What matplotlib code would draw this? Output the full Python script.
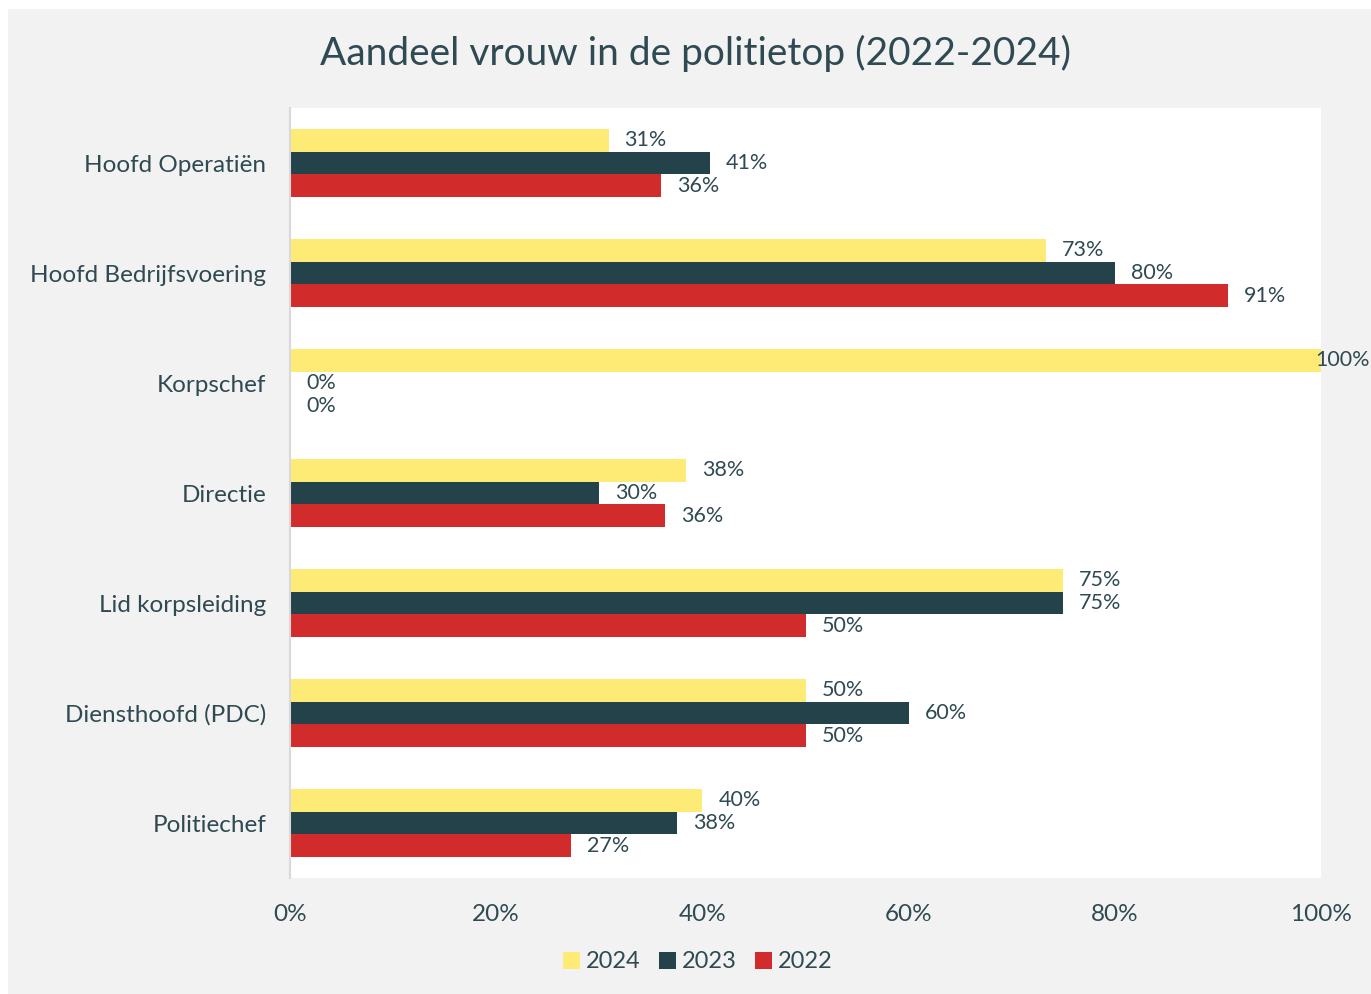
import matplotlib.pyplot as plt
import numpy as np
from matplotlib.patches import Rectangle

plt.rcParams['font.family'] = ['Lato', 'DejaVu Sans']

categorieen = ["Hoofd Operatiën", "Hoofd Bedrijfsvoering", "Korpschef", "Directie",
               "Lid korpsleiding", "Diensthoofd (PDC)", "Politiechef"]
jaren = ["2024", "2023", "2022"]
waarden_2024 = [30.9, 73.3, 100, 38.4, 75, 50, 40]
waarden_2023 = [40.7, 80, 0, 30, 75, 60, 37.5]
waarden_2022 = [36, 91, 0, 36.4, 50, 50, 27.3]

kleuren = ['#FDEB76', '#24424A', '#D22B2B']
tekstkleur = '#2F4A52'

fig = plt.figure(figsize=(13.71, 9.94), dpi=100, facecolor='white')
fig.patches.append(Rectangle((8 / 1371, 0), 1, 1 - 9 / 994, transform=fig.transFigure,
                             facecolor='#F2F2F2', edgecolor='none', zorder=-1))

ax = fig.add_axes([290 / 1371, 1 - 878 / 994, 1031 / 1371, 770 / 994])
ax.set_facecolor('white')

y = np.arange(len(categorieen))
h = 0.209
reeksen = [waarden_2024, waarden_2023, waarden_2022]
for i, (jaar, waarden, kleur) in enumerate(zip(jaren, reeksen, kleuren)):
    bars = ax.barh(y + (i - 1) * h, waarden, height=h, color=kleur, label=jaar)
    for b, v in zip(bars, waarden):
        # label bij 100% past niet meer rechts van de balk
        pad = -6 if v >= 100 else 16
        ax.annotate(f"{int(v + 0.5)}%", (b.get_width(), b.get_y() + b.get_height() / 2),
                    xytext=(pad, 0), textcoords='offset pixels', va='center', ha='left',
                    fontsize=15.5, color=tekstkleur, annotation_clip=False)

ax.set_xlim(0, 100)
ax.set_ylim(len(categorieen) - 0.5, -0.5)
ax.set_yticks(y)
ax.set_yticklabels(categorieen)
ax.set_xticks(range(0, 101, 20))
ax.set_xticklabels([f"{t}%" for t in range(0, 101, 20)])
ax.tick_params(axis='both', length=0, labelsize=17.5, colors=tekstkleur)
ax.tick_params(axis='y', pad=17)
ax.tick_params(axis='x', pad=19)
for s in ['top', 'right', 'bottom']:
    ax.spines[s].set_visible(False)
ax.spines['left'].set_color('#D9D9D9')
ax.spines['left'].set_linewidth(1.5)

fig.text(0.507, 1 - 53 / 994, "Aandeel vrouw in de politietop (2022-2024)", ha='center', va='center',
         fontsize=28, color=tekstkleur)

fig.legend(loc='center', bbox_to_anchor=(0.509, 1 - 962 / 994), ncol=3, frameon=False,
           fontsize=17, labelcolor=tekstkleur, handlelength=0.7, handleheight=0.7,
           handletextpad=0.25, columnspacing=0.8)

fig.savefig('out.png', dpi=100, facecolor=fig.get_facecolor())
